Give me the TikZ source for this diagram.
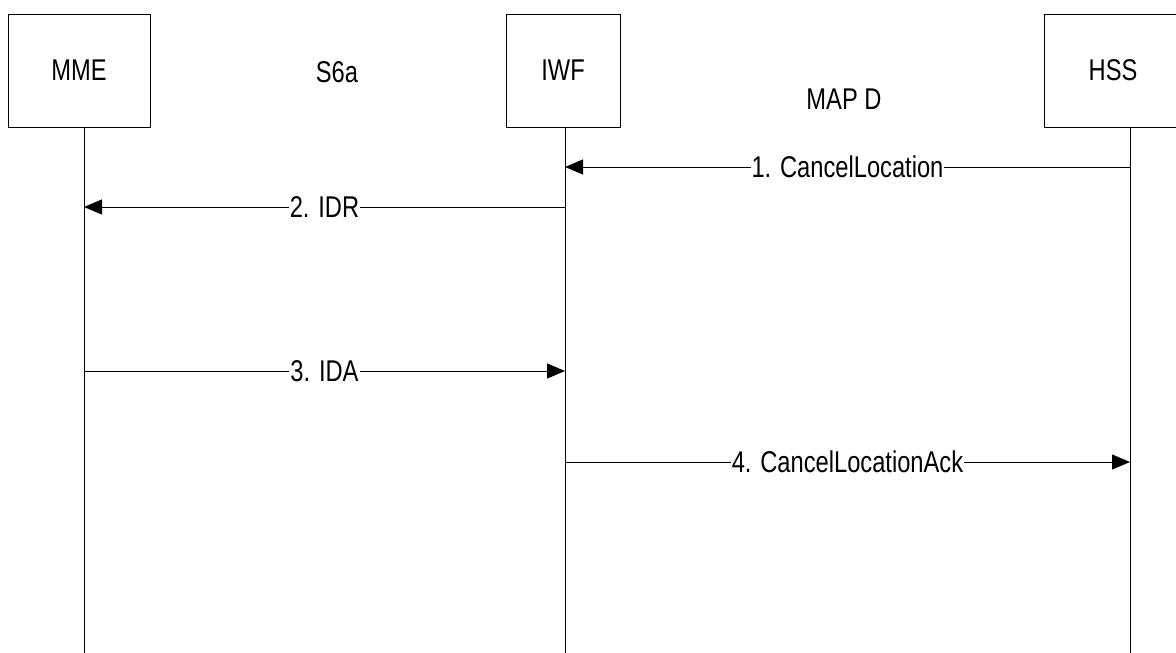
\documentclass[tikz,border=0pt]{standalone}
\usepackage{fontspec}
\setmainfont{Liberation Sans}[FakeStretch=0.79]
\usetikzlibrary{arrows.meta}

\tikzset{
  entity/.style={draw,line width=1pt,minimum height=113pt,inner sep=0pt},
  lifeline/.style={line width=1pt},
  msg/.style={line width=1pt,-{Triangle[length=18pt,width=15pt]}},
  msglabel/.style={fill=white,inner sep=1pt},
}

\begin{document}
\begin{tikzpicture}[x=1pt,y=-1pt,font=\fontsize{30}{36}\selectfont,line cap=butt]
  \useasboundingbox (0,0) rectangle (1176,653);
  % entities
  \node[entity,minimum width=142pt] (mme) at (79,70.5) {MME};
  \node[entity,minimum width=114pt] (iwf) at (563,70.5) {IWF};
  \node[entity,minimum width=138pt] (hss) at (1113,70.5) {HSS};
  % interfaces
  \node (s6a) at (337,72.5) {S6a};
  \node (mapd) at (844,99) {MAP D};
  % lifelines
  \coordinate (mmeEnd) at (84,653);
  \coordinate (iwfEnd) at (565,653);
  \coordinate (hssEnd) at (1130,653);
  \draw[lifeline] (mme.south -| mmeEnd) -- (mmeEnd);
  \draw[lifeline] (iwf.south -| iwfEnd) -- (iwfEnd);
  \draw[lifeline] (hss.south -| hssEnd) -- (hssEnd);
  % messages
  \draw[msg] (hssEnd |- 0,167) -- node[msglabel] {1. CancelLocation} (iwfEnd |- 0,167);
  \draw[msg] (iwfEnd |- 0,207) -- node[msglabel] {2. IDR} (mmeEnd |- 0,207);
  \draw[msg] (mmeEnd |- 0,371) -- node[msglabel] {3. IDA} (iwfEnd |- 0,371);
  \draw[msg] (iwfEnd |- 0,462) -- node[msglabel] {4. CancelLocationAck} (hssEnd |- 0,462);
\end{tikzpicture}
\end{document}
